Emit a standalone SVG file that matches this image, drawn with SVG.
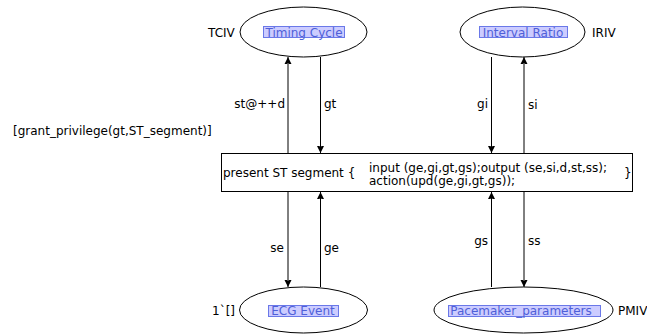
<svg xmlns="http://www.w3.org/2000/svg" width="647" height="335" viewBox="0 0 647 335">
<style>
text{font-family:"DejaVu Sans","Liberation Sans",sans-serif;font-size:12px;fill:#000;dominant-baseline:central}
.pl{fill:#fff;stroke:#000;stroke-width:1}
.hl{fill:#ccccff;stroke:#6a78e8;stroke-width:1}
.nm{fill:#4f5fd8}
.arc{stroke:#000;stroke-width:1;fill:none}
</style>
<defs>
<marker id="ah" markerUnits="userSpaceOnUse" markerWidth="14" markerHeight="14" viewBox="-7 -7 14 14" refX="0" refY="0" orient="auto">
<path d="M0,0 L-10,-5 L-6,0 L-10,5 Z" fill="#000"/>
</marker>
</defs>
<rect width="647" height="335" fill="#fff"/>
<g id="TimingCycle">
<ellipse class="pl" cx="303.5" cy="32" rx="63.5" ry="25"/>
<rect class="hl" x="263.5" y="26.5" width="81" height="11"/>
<text class="nm" x="304" y="32.5" text-anchor="middle">Timing Cycle</text>
<text x="208" y="32.5">TCIV</text>
</g>
<g id="IntervalRatio">
<ellipse class="pl" cx="522.5" cy="32" rx="62.5" ry="25"/>
<rect class="hl" x="479.5" y="26.5" width="88" height="11"/>
<text class="nm" x="523" y="32.5" text-anchor="middle">Interval Ratio</text>
<text x="592" y="32.5">IRIV</text>
</g>
<g id="ECGEvent">
<ellipse class="pl" cx="303.5" cy="310" rx="64" ry="23"/>
<rect class="hl" x="268.5" y="305.5" width="70" height="11"/>
<text class="nm" x="303" y="311" text-anchor="middle">ECG Event</text>
<text x="212" y="311">1`[]</text>
</g>
<g id="PacemakerParameters">
<ellipse class="pl" cx="523.5" cy="310" rx="89.5" ry="23"/>
<rect class="hl" x="448.5" y="305.5" width="152" height="11"/>
<text class="nm" x="521" y="311" text-anchor="middle">Pacemaker_parameters</text>
<text x="618" y="311">PMIV</text>
</g>
<g id="PresentSTSegment">
<rect class="pl" x="221.5" y="153.5" width="411" height="38"/>
<text x="223" y="173">present ST segment {</text>
<text x="369" y="167.5">input (ge,gi,gt,gs);output (se,si,d,st,ss);</text>
<text x="369" y="180.5">action(upd(ge,gi,gt,gs));</text>
<text x="624" y="173">}</text>
<text x="13" y="131">[grant_privilege(gt,ST_segment)]</text>
</g>
<g id="connectors">
<line class="arc" x1="288" y1="153" x2="288" y2="57" marker-end="url(#ah)"/>
<line class="arc" x1="320.5" y1="57" x2="320.5" y2="153" marker-end="url(#ah)"/>
<line class="arc" x1="491.5" y1="57" x2="491.5" y2="153" marker-end="url(#ah)"/>
<line class="arc" x1="524" y1="153" x2="524" y2="57" marker-end="url(#ah)"/>
<line class="arc" x1="288" y1="192" x2="288" y2="287" marker-end="url(#ah)"/>
<line class="arc" x1="320.5" y1="287" x2="320.5" y2="192" marker-end="url(#ah)"/>
<line class="arc" x1="491.5" y1="287" x2="491.5" y2="192" marker-end="url(#ah)"/>
<line class="arc" x1="524" y1="192" x2="524" y2="287" marker-end="url(#ah)"/>
<text x="285" y="103.5" text-anchor="end">st@++d</text>
<text x="324" y="103.5">gt</text>
<text x="488" y="103.5" text-anchor="end">gi</text>
<text x="528" y="104.5">si</text>
<text x="284" y="247.5" text-anchor="end">se</text>
<text x="324" y="247.5">ge</text>
<text x="488" y="240.5" text-anchor="end">gs</text>
<text x="528" y="240.5">ss</text>
</g>
</svg>
